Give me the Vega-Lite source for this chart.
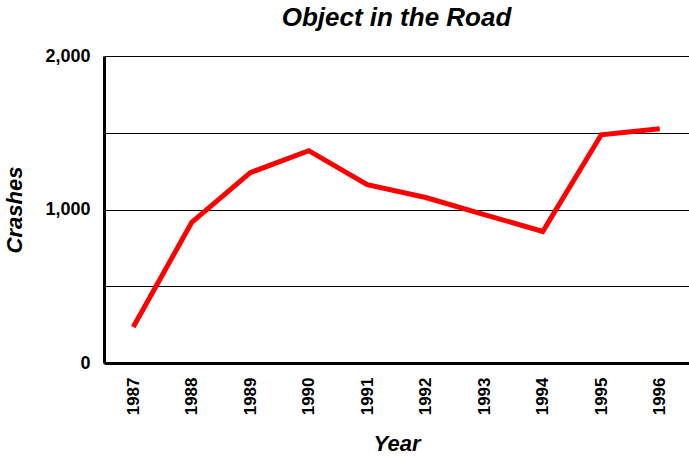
{
  "$schema": "https://vega.github.io/schema/vega-lite/v6.json",
  "autosize": "none",
  "width": 585,
  "height": 307,
  "padding": {"left": 104, "top": 56, "right": 0, "bottom": 93},
  "background": "white",
  "title": {
    "text": "Object in the Road",
    "font": "Liberation Sans",
    "fontSize": 26,
    "fontWeight": "bold",
    "fontStyle": "italic",
    "color": "black",
    "anchor": "middle",
    "offset": 16
  },
  "config": {
    "view": {"stroke": null},
    "font": "Liberation Sans"
  },
  "data": {
    "values": [
      {"Year": "1987", "Crashes": 234},
      {"Year": "1988", "Crashes": 916},
      {"Year": "1989", "Crashes": 1240},
      {"Year": "1990", "Crashes": 1383},
      {"Year": "1991", "Crashes": 1162},
      {"Year": "1992", "Crashes": 1078},
      {"Year": "1993", "Crashes": 967},
      {"Year": "1994", "Crashes": 857},
      {"Year": "1995", "Crashes": 1487},
      {"Year": "1996", "Crashes": 1526}
    ]
  },
  "mark": {"type": "line", "color": "#FF0000", "strokeWidth": 5, "strokeJoin": "miter"},
  "encoding": {
    "x": {
      "field": "Year",
      "type": "ordinal",
      "scale": {"type": "point", "padding": 0.5},
      "axis": {
        "title": "Year",
        "titleFont": "Liberation Sans",
        "titleFontSize": 22,
        "titleFontWeight": "bold",
        "titleFontStyle": "italic",
        "titleColor": "black",
        "titlePadding": 19,
        "labelAngle": -90,
        "labelFont": "Liberation Sans",
        "labelFontSize": 17,
        "labelFontWeight": "bold",
        "labelColor": "black",
        "labelPadding": 14,
        "ticks": false,
        "domainColor": "black",
        "domainWidth": 3,
        "grid": false
      }
    },
    "y": {
      "field": "Crashes",
      "type": "quantitative",
      "scale": {"domain": [0, 2000], "nice": false},
      "axis": {
        "title": "Crashes",
        "titleFont": "Liberation Sans",
        "titleFontSize": 22,
        "titleFontWeight": "bold",
        "titleFontStyle": "italic",
        "titleColor": "black",
        "titlePadding": 18,
        "values": [0, 500, 1000, 1500, 2000],
        "labelExpr": "datum.value % 1000 == 0 ? format(datum.value, ',') : ''",
        "labelFont": "Liberation Sans",
        "labelFontSize": 18,
        "labelFontWeight": "bold",
        "labelColor": "black",
        "labelPadding": 14,
        "ticks": false,
        "domainColor": "black",
        "domainWidth": 3,
        "grid": true,
        "gridColor": "black",
        "gridOpacity": 1,
        "gridWidth": 1
      }
    }
  }
}
